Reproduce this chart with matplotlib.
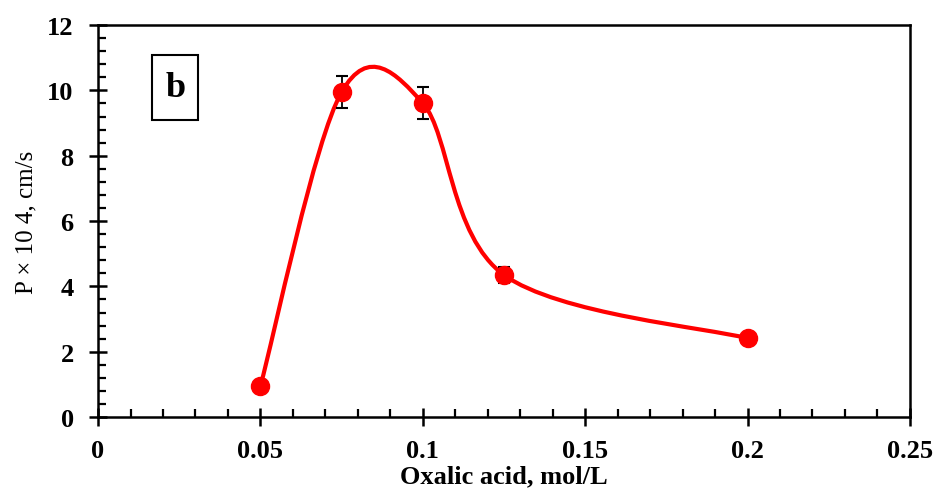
import numpy as np
import matplotlib.pyplot as plt
from matplotlib.path import Path
from matplotlib.patches import PathPatch, Rectangle
from matplotlib.ticker import MultipleLocator

plt.rcParams['font.family'] = ['Liberation Serif', 'DejaVu Serif']

# data
oxalic = [0.05, 0.075, 0.1, 0.125, 0.2]
perm = [0.95, 9.95, 9.61, 4.35, 2.41]
perm_err = [0.0, 0.5, 0.48, 0.24, 0.0]

xticks = [0, 0.05, 0.1, 0.15, 0.2, 0.25]
xtick_labels = ['0', '0.05', '0.1', '0.15', '0.2', '0.25']
yticks = [0, 2, 4, 6, 8, 10, 12]

fig = plt.figure(figsize=(9.4, 5.02), dpi=100)
ax = fig.add_axes([0.1043, 0.1673, 0.8637, 0.7807])

# Excel-style smoothed line: cubic bezier through the points
pts = np.column_stack([oxalic, perm])
n = len(pts)
verts = [pts[0]]
codes = [Path.MOVETO]
for i in range(n - 1):
    p_prev = pts[max(i - 1, 0)]
    p0 = pts[i]
    p1 = pts[i + 1]
    p_next = pts[min(i + 2, n - 1)]
    c1 = p0 + (p1 - p_prev) / 6
    c2 = p1 - (p_next - p0) / 6
    verts += [c1, c2, p1]
    codes += [Path.CURVE4] * 3
ax.add_patch(PathPatch(Path(verts, codes), fill=False, edgecolor='#ff0000', lw=3, zorder=2))

ax.plot(oxalic, perm, 'o', color='#ff0000', ms=13, zorder=3)
ax.errorbar(oxalic, perm, yerr=perm_err, fmt='none', ecolor='black',
            elinewidth=1.3, capsize=4.5, capthick=1.5, zorder=2.5)

ax.set_xlim(0, 0.25)
ax.set_ylim(0, 12)
ax.set_xticks(xticks)
ax.set_xticklabels(xtick_labels)
ax.set_yticks(yticks)
ax.xaxis.set_minor_locator(MultipleLocator(0.01))
ax.yaxis.set_minor_locator(MultipleLocator(0.4))

ax.tick_params(which='major', direction='inout', length=13, width=1.8, labelsize=19)
ax.tick_params(axis='x', which='major', pad=9)
ax.tick_params(axis='y', which='major', pad=11)
ax.tick_params(which='minor', direction='in', length=6, width=1.6)
for lab in ax.get_xticklabels() + ax.get_yticklabels():
    lab.set_fontweight('bold')

for sp in ax.spines.values():
    sp.set_linewidth(1.8)

ax.set_xlabel('Oxalic acid, mol/L', fontsize=19, fontweight='bold', labelpad=2)
ax.set_ylabel('P × 10 4, cm/s', fontsize=18)
ax.yaxis.set_label_coords(-0.075, 0.5)

# panel label box
ax.add_patch(Rectangle((0.0665, 0.758), 0.0567, 0.166, transform=ax.transAxes,
                       fill=False, ec='black', lw=1.5, zorder=5))
ax.text(0.095, 0.842, 'b', transform=ax.transAxes, fontsize=26, fontweight='bold',
        ha='center', va='center', zorder=6)

fig.savefig('out.png', dpi=100)
